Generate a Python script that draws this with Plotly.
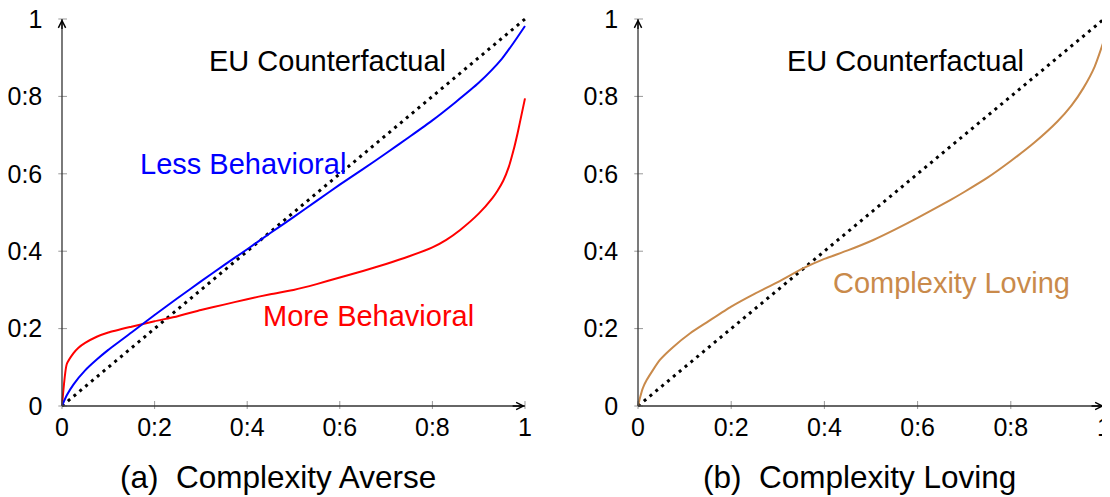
import plotly.graph_objects as go

# ---------------- data ----------------
tick_vals = [0, 0.2, 0.4, 0.6, 0.8, 1]
tick_text = ["0", "0:2", "0:4", "0:6", "0:8", "1"]

diag_x = [0, 1]
diag_y = [0, 1]

less_x = [0, 0.01, 0.025, 0.05, 0.075, 0.1, 0.15, 0.2, 0.25, 0.3, 0.35, 0.4, 0.45, 0.5,
          0.55, 0.6, 0.65, 0.7, 0.75, 0.8, 0.85, 0.9, 0.95, 0.975, 1.0]
less_y = [0, 0.027, 0.056, 0.092, 0.12, 0.145, 0.19, 0.235, 0.279, 0.322, 0.364, 0.405, 0.447, 0.488,
          0.53, 0.572, 0.612, 0.653, 0.695, 0.738, 0.785, 0.835, 0.897, 0.938, 0.982]

more_x = [0, 0.0102, 0.0245, 0.035, 0.05, 0.075, 0.1, 0.15, 0.2, 0.25, 0.3, 0.35, 0.4, 0.45, 0.5,
          0.55, 0.6, 0.65, 0.7, 0.75, 0.8, 0.83, 0.86, 0.9, 0.93, 0.94, 0.953, 0.965, 0.975,
          0.984, 0.989, 1.0]
more_y = [0, 0.108, 0.136, 0.15, 0.163, 0.179, 0.19, 0.205, 0.219, 0.232, 0.248, 0.262, 0.276, 0.289, 0.30,
          0.315, 0.332, 0.349, 0.367, 0.387, 0.41, 0.4295, 0.455, 0.497, 0.538, 0.555, 0.582, 0.618, 0.66,
          0.705, 0.733, 0.795]

love_x = [0, 0.004, 0.01, 0.0186, 0.047, 0.075, 0.112, 0.15, 0.2, 0.25, 0.3, 0.355, 0.4, 0.45, 0.505,
          0.55, 0.6, 0.67, 0.7, 0.75, 0.8, 0.85, 0.9, 0.93, 0.956, 0.98, 1.0]
love_y = [0, 0.02, 0.045, 0.067, 0.119, 0.152, 0.188, 0.218, 0.257, 0.29, 0.32, 0.356, 0.38, 0.402, 0.429,
          0.455, 0.486, 0.532, 0.553, 0.59, 0.633, 0.68, 0.735, 0.776, 0.822, 0.877, 0.945]

# ---------------- layout geometry ----------------
OFF = 8                              # page body margin
W, H = 1110 - OFF, 497 - OFF
PAD = 0.008
panels = [(62 - OFF, 525 - OFF), (638 - OFF, 1104 - OFF)]   # pixel x of value 0 and value 1
Y0, Y1 = 406 - OFF, 19 - OFF                                  # pixel y of value 0 and value 1

FONT = "Liberation Sans, Arial, Helvetica, sans-serif"
BLUE = "#0000ff"
RED = "#ff0000"
ORANGE = "#c98a4b"
AXIS = "#333333"
TICK = "#999999"

fig = go.Figure()

def dom_x(p0, p1):
    s = p1 - p0
    return [(p0 - PAD * s) / W, (p1 + PAD * s) / W]

sy = Y0 - Y1
ydom = [(H - (Y0 + PAD * sy)) / H, (H - (Y1 - PAD * sy)) / H]

axis_common = dict(range=[-PAD, 1 + PAD], showgrid=False, zeroline=False,
                   showline=False, ticks="", tickvals=tick_vals, ticktext=tick_text,
                   automargin=False, ticklabeloverflow="allow",
                   tickfont=dict(family=FONT, size=25, color="black"), fixedrange=True)

for i, (p0, p1) in enumerate(panels):
    sfx = "" if i == 0 else "2"
    fig.layout["xaxis" + sfx] = dict(domain=dom_x(p0, p1), anchor="y" + sfx,
                                      ticklabelstandoff=1, **axis_common)
    fig.layout["yaxis" + sfx] = dict(domain=ydom, anchor="x" + sfx,
                                      ticklabelstandoff=15, **axis_common)

dot_line = dict(color="black", width=3, dash="3px,4.6px")

# left panel
fig.add_trace(go.Scatter(x=diag_x, y=diag_y, mode="lines", line=dot_line,
                         xaxis="x", yaxis="y", showlegend=False, hoverinfo="skip"))
fig.add_trace(go.Scatter(x=more_x, y=more_y, mode="lines",
                         line=dict(color=RED, width=2, shape="spline", smoothing=0.5),
                         xaxis="x", yaxis="y", showlegend=False))
fig.add_trace(go.Scatter(x=less_x, y=less_y, mode="lines",
                         line=dict(color=BLUE, width=2, shape="spline", smoothing=0.6),
                         xaxis="x", yaxis="y", showlegend=False))
# right panel
fig.add_trace(go.Scatter(x=diag_x, y=diag_y, mode="lines", line=dot_line,
                         xaxis="x2", yaxis="y2", showlegend=False, hoverinfo="skip"))
fig.add_trace(go.Scatter(x=love_x, y=love_y, mode="lines",
                         line=dict(color=ORANGE, width=2, shape="spline", smoothing=0.6),
                         xaxis="x2", yaxis="y2", showlegend=False))

shapes = []
annotations = []
for i in range(2):
    xr = "x" if i == 0 else "x2"
    yr = "y" if i == 0 else "y2"
    # tick marks crossing the axes
    for v in tick_vals:
        shapes.append(dict(type="line", xref=xr, yref=yr, x0=v, x1=v,
                           ysizemode="pixel", yanchor=0, y0=-5, y1=5,
                           line=dict(color=TICK, width=1)))
        shapes.append(dict(type="line", xref=xr, yref=yr, y0=v, y1=v,
                           xsizemode="pixel", xanchor=0, x0=-5, x1=5,
                           line=dict(color=TICK, width=1)))
    # axis lines
    shapes.append(dict(type="line", xref=xr, yref=yr, x0=0, x1=1, y0=0, y1=0,
                       line=dict(color=AXIS, width=1.3)))
    shapes.append(dict(type="line", xref=xr, yref=yr, x0=0, x1=0, y0=0, y1=1,
                       line=dict(color=AXIS, width=1.3)))
    # arrow heads
    annotations.append(dict(x=1, y=0, ax=0.97, ay=0, xref=xr, yref=yr, axref=xr, ayref=yr,
                            text="", showarrow=True, arrowhead=5, arrowsize=1.1,
                            arrowwidth=1.3, arrowcolor="black", standoff=0))
    annotations.append(dict(x=0, y=1, ax=0, ay=0.97, xref=xr, yref=yr, axref=xr, ayref=yr,
                            text="", showarrow=True, arrowhead=5, arrowsize=1.1,
                            arrowwidth=1.3, arrowcolor="black", standoff=0))
    annotations.append(dict(x=0.574, y=0.891, xref=xr, yref=yr, text="EU Counterfactual",
                            showarrow=False, font=dict(family=FONT, size=29, color="black")))

annotations.append(dict(x=0.391, y=0.625, xref="x", yref="y", text="Less Behavioral",
                        showarrow=False, font=dict(family=FONT, size=29, color=BLUE)))
annotations.append(dict(x=0.661, y=0.233, xref="x", yref="y", text="More Behavioral",
                        showarrow=False, font=dict(family=FONT, size=29, color=RED)))
annotations.append(dict(x=0.672, y=0.318, xref="x2", yref="y2", text="Complexity Loving",
                        showarrow=False, font=dict(family=FONT, size=29, color=ORANGE)))

# captions below the panels
cap_y = (H - (477 - OFF)) / H
annotations.append(dict(x=(277.5 - OFF) / W, y=cap_y, xref="paper", yref="paper",
                        xanchor="center", yanchor="middle",
                        text="(a)\u00a0\u00a0Complexity Averse", showarrow=False,
                        font=dict(family=FONT, size=31.5, color="black")))
annotations.append(dict(x=(859 - OFF) / W, y=cap_y, xref="paper", yref="paper",
                        xanchor="center", yanchor="middle",
                        text="(b)\u00a0\u00a0Complexity Loving", showarrow=False,
                        font=dict(family=FONT, size=31.5, color="black")))

fig.update_layout(width=W, height=H, margin=dict(l=0, r=0, t=0, b=0),
                  paper_bgcolor="white", plot_bgcolor="white",
                  shapes=shapes, annotations=annotations, showlegend=False)

fig.write_html("out.html")
